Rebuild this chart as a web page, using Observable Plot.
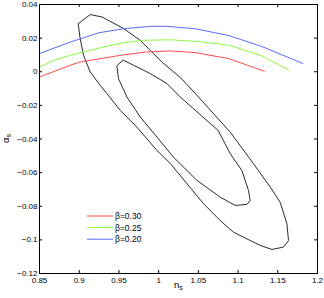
<!DOCTYPE html>
<html>
<head>
<meta charset="utf-8">
<script src="https://cdn.jsdelivr.net/npm/d3@7"></script>
<script src="https://cdn.jsdelivr.net/npm/@observablehq/plot@0.6"></script>
<style>
  body { margin: 0; background: white; }
  #wrap { position: relative; width: 324px; height: 298px; font-family: "Liberation Sans", Arial, sans-serif; }
  .lab { position: absolute; font-size: 9.5px; line-height: 11px; color: #000; white-space: nowrap; }
  .lab sub { font-size: 7px; vertical-align: -2px; line-height: 0; }
</style>
</head>
<body>
<div id="wrap"></div>
<script>
// ---- data ----
const outerN = [0.8991,0.9138,0.9286,0.9558,0.9768,1.0045,1.0271,1.0482,1.0901,1.1194,1.1405,1.1530,1.1615,1.1635,1.1572,1.1426,1.1279,1.1153,1.0942,1.0775,1.0565,1.0146,0.9978,0.9726,0.9516,0.9349,0.9264,0.9138,0.9054,0.9012];
const outerA = [0.0287,0.0340,0.0326,0.0257,0.0187,0.0056,-0.0033,-0.0140,-0.0359,-0.0547,-0.0686,-0.0776,-0.0904,-0.1004,-0.1043,-0.1057,-0.1033,-0.1004,-0.0954,-0.0885,-0.0785,-0.0545,-0.0468,-0.0329,-0.0229,-0.0130,-0.0081,-0.0001,0.0098,0.0198];
const innerN = [0.9474,0.9495,0.9600,0.9768,0.9978,1.0187,1.0482,1.0775,1.0964,1.1111,1.1153,1.1131,1.1048,1.0901,1.0749,1.0271,1.0104,0.9894,0.9683,0.9558];
const innerA = [0.0033,-0.0041,-0.0150,-0.0269,-0.0388,-0.0508,-0.0646,-0.0746,-0.0795,-0.0789,-0.0765,-0.0706,-0.0587,-0.0487,-0.0349,-0.0150,-0.0070,-0.0011,0.0039,0.0068];

const beta30N = [0.85,0.889,0.901,0.914,0.952,0.985,1.015,1.046,1.0885,1.133];
const beta30A = [-0.0031,0.0039,0.0058,0.0068,0.0098,0.0118,0.0124,0.0114,0.0078,0.0003];
const beta25N = [0.85,0.87,0.889,0.931,0.956,0.981,1.015,1.05,1.0885,1.13,1.164];
const beta25A = [0.0028,0.0072,0.0098,0.0148,0.0173,0.0187,0.0190,0.0180,0.0158,0.0094,0.0009];
const beta20N = [0.85,0.889,0.925,0.956,0.99,1.01,1.046,1.0885,1.13,1.1816];
const beta20A = [0.0108,0.0177,0.0232,0.0256,0.0270,0.0270,0.0256,0.0215,0.0150,0.0049];

const seriesNames = ["β=0.30","β=0.25","β=0.20"];
const seriesColors = ["#ff4a4a","#8ef545","#5b6bff"];

const xTicks = [0.85,0.9,0.95,1,1.05,1.1,1.15,1.2];
const xLabels = ["0.85","0.9","0.95","1","1.05","1.1","1.15","1.2"];
const yTicks = [0.04,0.02,0,-0.02,-0.04,-0.06,-0.08,-0.1,-0.12];
const yLabels = ["0.04","0.02","0","\u22120.02","\u22120.04","\u22120.06","\u22120.08","\u22120.1","\u22120.12"];

// ---- build ----
const toRows = (N, A) => N.map((n, i) => ({n, a: A[i]}));
const outer = toRows(outerN, outerA);
const inner = toRows(innerN, innerA);
const series = [toRows(beta30N, beta30A), toRows(beta25N, beta25A), toRows(beta20N, beta20A)];

const W = 324, H = 298, mL = 39, mR = 7, mT = 4, mB = 25;
const fh = H - mT - mB, fw = W - mL - mR, tl = 3;

const chart = Plot.plot({
  width: W, height: H,
  marginLeft: mL, marginRight: mR, marginTop: mT, marginBottom: mB,
  x: {domain: [0.85, 1.2]},
  y: {domain: [-0.12, 0.04]},
  style: {fontFamily: "'Liberation Sans', Arial, sans-serif", fontSize: "8px", color: "#000", background: "white", overflow: "visible"},
  marks: [
    Plot.line(outer, {x: "n", y: "a", stroke: "#2a2a2a", strokeWidth: 1, curve: "linear-closed"}),
    Plot.line(inner, {x: "n", y: "a", stroke: "#2a2a2a", strokeWidth: 1, curve: "linear-closed"}),
    ...series.map((s, i) => Plot.line(s, {x: "n", y: "a", stroke: seriesColors[i], strokeWidth: 1})),
    Plot.frame({stroke: "#000", strokeWidth: 1}),
    Plot.tickX(xTicks, {x: d => d, insetBottom: fh - tl, stroke: "#000"}),
    Plot.tickX(xTicks, {x: d => d, insetTop: fh - tl, stroke: "#000"}),
    Plot.tickY(yTicks, {y: d => d, insetRight: fw - tl, stroke: "#000"}),
    Plot.tickY(yTicks, {y: d => d, insetLeft: fw - tl, stroke: "#000"}),
    Plot.axisX(xTicks, {tickSize: 0, tickPadding: 4, tickFormat: d => xLabels[xTicks.indexOf(d)], label: null}),
    Plot.axisY(yTicks, {tickSize: 0, tickPadding: 2, tickFormat: d => yLabels[yTicks.indexOf(d)], label: null})
  ]
});

const wrap = document.getElementById("wrap");
wrap.appendChild(chart);

// axis titles
const xl = document.createElement("div");
xl.className = "lab";
xl.innerHTML = "n<sub>s</sub>";
xl.style.left = "174px"; xl.style.top = "279px";
wrap.appendChild(xl);

const yl = document.createElement("div");
yl.className = "lab";
yl.innerHTML = "α<sub>s</sub>";
yl.style.left = "1px"; yl.style.top = "133px";
yl.style.transform = "rotate(-90deg)";
wrap.appendChild(yl);

// legend
const leg = d3.select(wrap).append("svg")
  .attr("width", 70).attr("height", 40)
  .style("position", "absolute").style("left", "85px").style("top", "209px");
seriesNames.forEach((name, i) => {
  const g = leg.append("g").attr("transform", `translate(0,${7 + i * 11.6})`);
  g.append("line").attr("x1", 2).attr("x2", 28).attr("stroke", seriesColors[i]).attr("stroke-width", 1);
  g.append("text").attr("x", 30).attr("dy", "0.35em")
    .attr("font-family", "'Liberation Sans', Arial, sans-serif").attr("font-size", 8.5)
    .attr("fill", "#000").text(name);
});
</script>
</body>
</html>
